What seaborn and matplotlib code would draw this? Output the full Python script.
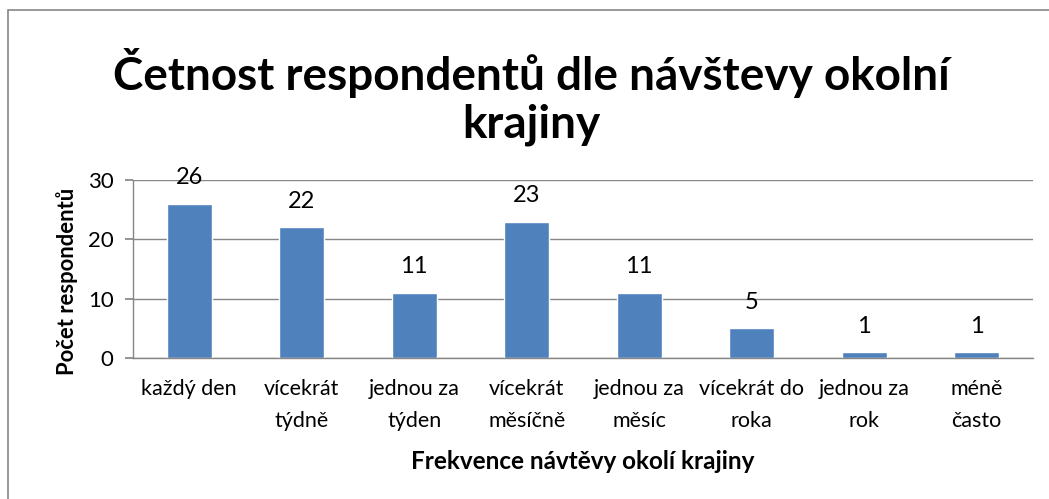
import matplotlib
matplotlib.use("Agg")
import matplotlib.pyplot as plt
import matplotlib.patches as mpatches
import seaborn as sns
import pandas as pd

categories = ["každý den", "vícekrát\ntýdně", "jednou za\ntýden", "vícekrát\nměsíčně",
              "jednou za\nměsíc", "vícekrát do\nroka", "jednou za\nrok", "méně\nčasto"]
values = [26, 22, 11, 23, 11, 5, 1, 1]
yticks = [0, 10, 20, 30]
title = "Četnost respondentů dle návštevy okolní\nkrajiny"
xlabel = "Frekvence návtěvy okolí krajiny"
ylabel = "Počet respondentů"

sns.set_theme(style="white")
plt.rcParams['font.family'] = ['Lato', 'DejaVu Sans']
plt.rcParams['text.color'] = 'black'
plt.rcParams['axes.labelcolor'] = 'black'
plt.rcParams['xtick.color'] = 'black'
plt.rcParams['ytick.color'] = 'black'

df = pd.DataFrame({"cat": categories, "val": values})

W, H = 1049, 499
fig = plt.figure(figsize=(W/100, H/100), dpi=100)
ax = fig.add_axes([133/W, (H-358)/H, 900/W, 178/H])

sns.barplot(data=df, x="cat", y="val", color="#4F81BD", width=0.4, saturation=1, ax=ax)

ax.set_ylim(0, 30)
ax.set_yticks(yticks)
ax.yaxis.grid(True, color="#868686", linewidth=1)
ax.set_axisbelow(True)
for s in ["top", "right"]:
    ax.spines[s].set_visible(False)
for s in ["left", "bottom"]:
    ax.spines[s].set_color("#868686")
    ax.spines[s].set_linewidth(1)
ax.tick_params(axis="y", left=True, length=6, color="#868686", labelsize=16, pad=8,
               labelcolor="black")
ax.tick_params(axis="x", bottom=False, labelsize=15.5, pad=9, labelcolor="black")
for lab in ax.get_xticklabels():
    lab.set_linespacing(1.75)

ax.bar_label(ax.containers[0], labels=[str(v) for v in values], padding=11, fontsize=17,
             color="black")

ax.set_xlabel(xlabel, fontsize=17.5, fontweight="bold", labelpad=14, color="black")
ax.set_ylabel(ylabel, fontsize=15.8, fontweight="bold", labelpad=10, color="black")
ax.yaxis.set_label_coords(-55/900, (358-281)/178)

fig.text(531/W, 1-97/H, title, ha="center", va="center", fontsize=33,
         fontweight="bold", linespacing=1.15, color="black")

frame = mpatches.Rectangle((8/W, -0.1), 1.2, 1.1 - 10/H, transform=fig.transFigure,
                           fill=False, edgecolor="#868686", linewidth=1.2)
fig.patches.append(frame)

fig.savefig("out.png", dpi=100)
